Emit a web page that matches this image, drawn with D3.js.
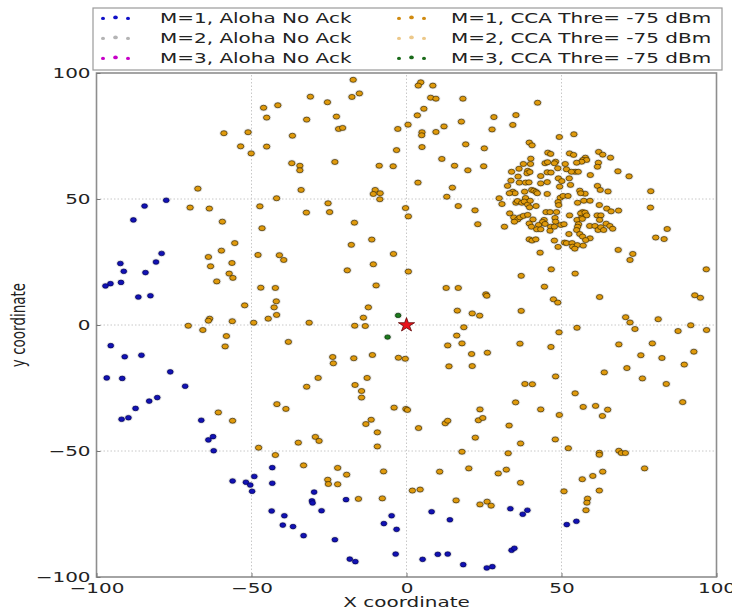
<!DOCTYPE html>
<html><head><meta charset="utf-8">
<script src="https://cdn.jsdelivr.net/npm/d3@7"></script>
<style>body{margin:0;background:#fff}svg{display:block}</style>
</head><body>
<svg id="c" width="732" height="611"></svg>
<script>
// ---------- DATA ----------
const tickValues = [-100, -50, 0, 50, 100];
const legendLabels = ["M=1, Aloha No Ack","M=2, Aloha No Ack","M=3, Aloha No Ack",
                      "M=1, CCA Thre= -75 dBm","M=2, CCA Thre= -75 dBm","M=3, CCA Thre= -75 dBm"];
const legendColors = ["#1010c8","#b4b4b4","#c800c8","#d08a10","#ecc88a","#1a6a1a"];
const xLabel = "X coordinate";
const yLabel = "y coordinate";

// M=1, Aloha No Ack (blue)
const alohaM1 = [[-77.5,49.5],[-84.5,47.2],[-88.1,41.7],[-79.0,28.4],[-80.8,25.0],[-92.3,24.4],[-91.2,21.3],[-84.2,20.8],[-92.1,16.9],[-95.5,16.4],[-97.1,15.5],[-86.5,11.1],[-82.6,11.6],[-95.4,-8.2],[-90.9,-12.6],[-85.5,-12.0],[-76.2,-18.6],[-96.7,-21.0],[-91.7,-21.2],
[-71.4,-24.3],[-87.4,-33.1],[-83.0,-30.2],[-80.4,-28.8],[-91.9,-37.4],[-89.7,-36.8],[-66.2,-37.8],[-63.9,-45.6],[-62.4,-44.3],[-62.2,-49.9],[-56.1,-61.9],[-51.8,-62.4],[-50.4,-63.5],[-49.8,-66.0],[-49.1,-60.1],[-43.3,-56.6],[-43.3,-62.8],[-43.5,-73.8],[-39.4,-75.7],[-39.9,-79.4],[-36.6,-80.0],[-33.2,-83.6],[-29.8,-66.3],[-30.5,-69.8],[-30.3,-70.6],[-27.4,-73.7],[-23.1,-85.2],[-19.5,-69.3],[-18.3,-92.9],[-16.5,-93.9],[-4.8,-75.7],[-7.3,-78.8],[-3.2,-81.1],[-3.5,-90.9],
[8.1,-74.1],[14.0,-77.3],[33.5,-72.9],[37.5,-75.1],[39.0,-73.5],[51.7,-79.2],[54.8,-77.9],[33.9,-89.4],[34.8,-88.6],[5.2,-93.0],[10.1,-91.0],[13.3,-90.9],[18.3,-95.1],[25.9,-96.4],[27.7,-95.9]];

// M=1, CCA Thre= -75 dBm (orange) - scattered nodes
const ccaM1Spread = [[-58.9,76.1],[-51.1,76.5],[-53.5,70.9],[-50.1,68.1],[-67.3,54.1],
[-17.2,97.3],[-31.0,90.6],[-17.6,90.5],[-15.2,91.9],[-25.5,88.4],[-46.1,86.2],[-41.5,87.2],[-45.1,82.3],[-32.2,81.5],[-22.6,82.7],[-21.9,77.8],[-20.6,78.2],[0.5,79.5],[-2.8,77.8],[-36.8,75.1],[-45.1,70.8],[-3.2,69.4],[-37.0,64.2],[-34.4,63.2],[-34.4,61.4],[-23.1,64.7],[-8.8,63.2],[-4.3,63.0],[-34.0,53.6],[-41.9,50.3],[-10.1,53.6],[-10.7,52.0],[-8.5,52.3],[-8.6,49.9],
[4.6,96.3],[3.8,95.0],[8.5,95.0],[7.8,90.2],[9.5,89.8],[18.2,89.8],[42.3,88.2],[5.6,85.8],[3.5,83.2],[35.3,83.3],[28.2,82.5],[17.7,80.7],[34.3,79.4],[27.6,77.6],[12.1,78.8],[9.5,76.6],[5.0,76.5],[4.9,75.3],[19.1,71.7],[25.1,70.1],[5.0,70.6],[11.4,65.9],[15.5,63.2],[24.9,63.0],[19.8,61.4],[3.7,56.5],[14.8,54.5],[13.0,50.9],[78.8,53.1],
[-69.8,46.6],[-63.6,46.2],[-59.4,41.0],[-55.4,32.5],[-59.7,29.5],[-63.9,27.0],[-56.3,24.6],[-63.2,23.3],[-57.2,20.4],[-56.0,18.7],[-61.2,17.3],[-52.2,7.8],[-63.5,2.5],[-63.9,1.7],[-56.2,1.5],[-70.4,-0.3],[-65.7,-2.0],[-58.1,-4.4],[-58.5,-8.5],[-47.3,47.1],[-46.6,38.4],[-32.3,44.6],[-25.3,48.3],[-24.8,44.8],[-16.8,40.6],[-11.2,33.9],[-17.8,31.8],[-4.2,28.2],[-47.9,27.8],[-41.0,27.7],[-39.6,25.8],[-19.1,21.7],[-10.7,24.1],[-9.8,15.7],[-47.0,14.8],[-42.3,14.7],[-42.0,9.4],[-42.7,7.0],[-41.9,4.0],[-44.6,2.5],[-49.3,0.9],[-31.4,0.9],[-12.3,7.0],[-13.9,2.9],[-16.7,-0.3],[-13.3,-0.4],[-38.1,-6.7],[-11.0,-11.9],[-2.6,-13.0],[-23.8,-12.7],[-23.6,-15.2],[-17.0,-13.2],[-28.5,-21.0],[-12.7,-21.0],
[-0.3,46.4],[0.6,43.1],[16.7,47.2],[22.1,45.5],[23.0,40.0],[0.6,21.2],[78.7,46.6],[84.1,38.1],[80.4,34.7],[83.1,34.1],[96.7,22.1],[54.4,20.4],[37.0,19.5],[44.5,15.2],[12.8,14.7],[16.7,14.7],[25.6,12.2],[25.9,11.6],[47.4,10.2],[48.8,8.9],[62.3,11.1],[93.0,11.8],[94.8,10.8],[16.4,5.7],[21.2,4.6],[23.6,3.7],[37.0,5.6],[70.7,3.1],[72.1,1.0],[81.2,2.3],[73.7,-1.6],[91.7,-0.1],[96.8,-2.0],[87.6,-2.4],[18.5,-0.9],[55.0,-1.1],[49.2,-2.9],[16.2,-4.2],[13.3,-8.1],[17.9,-7.3],[36.6,-7.4],[46.6,-8.7],[68.5,-7.7],[79.3,-7.3],[21.0,-11.5],[26.1,-11.0],[75.6,-12.0],[82.4,-13.1],[92.7,-10.6],[-0.4,-13.4],[13.7,-16.4],[21.2,-16.3],[71.1,-17.1],[89.6,-15.7],[63.8,-18.8],[48.1,-20.4],[76.1,-21.2],
[-60.7,-34.7],[-56.1,-38.0],[-47.7,-48.7],[-42.3,-51.6],[-41.8,-31.4],[-38.9,-33.3],[-32.2,-24.5],[-34.9,-46.7],[-29.4,-44.4],[-28.2,-46.0],[-33.2,-55.7],[-16.6,-23.8],[-14.5,-26.2],[-14.5,-28.8],[-11.4,-37.6],[-13.1,-39.3],[-9.4,-42.6],[-9.4,-48.2],[-4.0,-32.8],[-22.2,-56.7],[-19.3,-59.4],[-25.4,-61.4],[-25.2,-63.1],[-22.2,-63.2],[-15.5,-69.0],[-7.8,-68.8],[-7.4,-58.1],
[38.2,-23.4],[40.6,-23.5],[83.8,-23.4],[89.1,-30.6],[54.4,-27.1],[57.0,-32.5],[61.0,-32.1],[64.9,-33.6],[63.2,-36.1],[49.3,-35.7],[35.2,-30.7],[43.3,-33.5],[-0.2,-33.3],[0.3,-33.7],[23.7,-33.5],[23.2,-37.8],[24.6,-36.9],[12.5,-39.0],[13.3,-38.0],[3.9,-40.9],[33.1,-39.9],[22.2,-44.7],[36.8,-47.0],[48.0,-45.4],[52.2,-48.9],[17.9,-50.3],[32.8,-50.9],[62.2,-50.7],[62.2,-51.5],[68.5,-49.9],[69.3,-50.8],[70.6,-50.8],[10.7,-58.2],[20.1,-56.9],[29.6,-58.9],[32.2,-57.4],[63.3,-58.2],[76.8,-56.9],[60.1,-59.9],[56.7,-61.2],[36.8,-62.6],[1.9,-65.7],[4.4,-65.3],[50.8,-66.0],[62.2,-65.7],[16.0,-69.6],[23.7,-71.2],[26.0,-70.1],[27.3,-71.7],[58.4,-68.9],[58.2,-70.5],[57.9,-73.5]];

// M=1, CCA Thre= -75 dBm (orange) - dense cluster in upper right
const ccaM1Cluster = [[49.3,74.6],[54.0,75.7],[39.6,72.4],[40.5,71.3],[45.6,68.4],[46.5,67.9],[52.6,68.1],[53.9,67.5],[62.0,68.7],[63.3,67.6],[65.8,66.4],[57.7,66.4],[56.9,65.5],[58.1,65.5],[56.5,64.8],[61.9,64.4],[61.6,62.8],[40.1,66.0],[40.0,63.9],[44.7,64.2],[45.5,64.6],[48.1,64.8],[47.7,64.2],[37.7,63.9],[51.2,63.9],[54.9,64.4],[36.3,62.0],[33.9,60.8],[39.1,61.2],[38.9,60.2],[39.8,60.7],[45.4,60.6],[46.6,60.5],[48.8,62.2],[51.6,61.8],[54.4,60.8],[53.2,60.8],[55.4,60.8],[59.3,59.5],[68.2,61.0],[71.8,59.0],[33.7,57.3],[36.0,58.9],[36.4,56.5],[38.4,56.5],[39.5,56.6],[43.3,59.1],[43.3,56.2],[45.4,56.7],[49.0,58.2],[50.1,57.1],[49.4,54.9],[52.9,55.6],[52.5,58.2],[32.6,55.2],[34.3,52.9],[35.0,52.3],[33.2,52.3],[38.1,52.9],[40.4,53.6],[41.1,53.3],[41.8,52.8],[42.2,52.3],[45.4,52.0],[49.6,50.5],[50.5,51.2],[52.1,51.2],[55.9,53.3],[57.6,52.1],[56.2,52.3],[61.6,55.2],[62.5,53.6],[65.0,53.0],[29.9,50.3],[30.8,48.0],[35.3,48.5],[35.8,49.2],[37.2,48.5],[38.4,50.4],[38.0,49.0],[39.1,47.8],[39.7,46.7],[41.8,47.2],[39.9,49.3],[48.9,48.8],[49.1,47.6],[55.2,48.5],[57.2,49.3],[59.2,49.3],[62.2,47.6],[64.6,46.2],[66.0,45.1],[68.4,45.4],[56.8,44.8],[56.2,44.3],[56.5,42.6],[57.6,44.6],[58.1,43.5],[33.3,44.3],[34.6,42.7],[35.9,41.9],[36.6,42.7],[37.7,43.3],[39.1,43.7],[34.8,41.0],[45.0,44.8],[46.3,44.8],[48.4,44.8],[40.8,41.9],[44.4,41.7],[43.9,40.9],[47.9,42.5],[48.1,41.0],[52.6,43.5],[55.0,41.7],[55.5,40.0],[56.7,42.1],[59.1,39.3],[61.5,43.5],[62.7,43.5],[62.3,41.7],[31.6,39.0],[39.6,40.3],[40.3,39.0],[42.6,39.7],[44.7,40.1],[46.5,39.0],[47.7,39.0],[49.8,39.7],[50.8,40.0],[55.2,39.0],[60.8,39.3],[61.8,37.7],[62.7,38.8],[64.4,40.2],[65.6,39.3],[66.5,38.2],[63.6,37.7],[42.0,38.0],[43.3,38.0],[46.3,37.4],[52.4,36.1],[54.9,37.7],[55.9,36.1],[56.8,35.1],[59.2,34.4],[57.8,33.7],[39.6,34.0],[40.5,33.5],[41.7,34.0],[47.7,33.5],[51.0,32.7],[51.6,32.5],[53.4,32.5],[53.6,31.1],[55.1,31.7],[54.3,30.3],[57.0,31.5],[48.9,31.0],[43.1,28.7],[68.3,29.8],[73.0,28.2],[72.1,25.8],[46.7,22.1]];

// M=3, CCA Thre= -75 dBm (green)
const ccaM3 = [[-2.7,3.8],[-6.1,-4.8]];
// Sink (red star)
const sink = [[0,0]];

// ---------- DRAW ----------
const SX = 1.48;               // horizontal stretch of the original figure
const FONT = "DejaVu Sans";
const svg = d3.select("#c");
const x = d3.scaleLinear().domain([-100,100]).range([96.5,716.5]);
const y = d3.scaleLinear().domain([-100,100]).range([577,73]);
const fmt = d => (d < 0 ? "\u2212" + Math.abs(d) : String(d));

// grid
const grid = svg.append("g");
grid.selectAll("line.gx").data(tickValues.slice(1,-1)).join("line")
  .attr("x1", d=>x(d)).attr("x2", d=>x(d)).attr("y1", y(-100)).attr("y2", y(100))
  .attr("stroke","#c8c8c8").attr("stroke-width",1).attr("stroke-dasharray","1.5,2");
grid.selectAll("line.gy").data(tickValues.slice(1,-1)).join("line")
  .attr("y1", d=>y(d)).attr("y2", d=>y(d)).attr("x1", x(-100)).attr("x2", x(100))
  .attr("stroke","#c8c8c8").attr("stroke-width",1).attr("stroke-dasharray","1.5,2");

// points
svg.append("clipPath").attr("id","pc").append("rect")
  .attr("x",x(-100)).attr("y",y(100)).attr("width",x(100)-x(-100)).attr("height",y(-100)-y(100));
const pts = svg.append("g").attr("clip-path","url(#pc)");

function drawSeries(data, fill, stroke, rx, ry) {
  const g = pts.append("g");
  g.selectAll("ellipse.h").data(data).join("ellipse")
    .attr("cx", d=>x(d[0])).attr("cy", d=>y(d[1]))
    .attr("rx", rx+1.3).attr("ry", ry+1.1).attr("fill","#c4c4c4").attr("opacity",0.45);
  g.selectAll("ellipse.p").data(data).join("ellipse")
    .attr("cx", d=>x(d[0])).attr("cy", d=>y(d[1]))
    .attr("rx", rx).attr("ry", ry).attr("fill", fill)
    .attr("stroke", stroke).attr("stroke-width", 0.7);
}
drawSeries(alohaM1, "#1212b4", "#00005a", 2.9, 2.3);
drawSeries(ccaM1Spread.concat(ccaM1Cluster), "#e09a0c", "#3f2c00", 3.2, 2.5);
drawSeries(ccaM3, "#1d7a1d", "#003000", 2.8, 2.2);

pts.selectAll("path.star").data(sink).join("path")
  .attr("d", d3.symbol(d3.symbolStar, 62)())
  .attr("transform", d=>`translate(${x(d[0])},${y(d[1])}) scale(1.15,1)`)
  .attr("fill","#e8141c").attr("stroke","#5a0000").attr("stroke-width",0.7);

// frame
svg.append("rect").attr("x",x(-100)).attr("y",y(100))
  .attr("width",x(100)-x(-100)).attr("height",y(-100)-y(100))
  .attr("fill","none").attr("stroke","#8e8e8e").attr("stroke-width",1.6);

// axes
const xa = svg.append("g").attr("transform",`translate(0,${y(-100)})`)
  .call(d3.axisBottom(x).tickValues(tickValues).tickFormat(fmt).tickSizeInner(-4).tickSizeOuter(0));
const ya = svg.append("g").attr("transform",`translate(${x(-100)},0)`)
  .call(d3.axisLeft(y).tickValues(tickValues).tickFormat(fmt).tickSizeInner(-4).tickSizeOuter(0));
[xa,ya].forEach(a=>{ a.select(".domain").remove();
  a.selectAll(".tick line").attr("stroke","#777");
  a.selectAll("text").attr("fill","#222").style("font-family",FONT).style("font-size","13.5px"); });
xa.selectAll("text").attr("y",6).attr("dy","0.71em").attr("transform",`scale(${SX},1)`);
ya.selectAll("text").attr("x",-4).attr("dy","0.36em").attr("transform",`scale(${SX},1)`);

// axis labels
svg.append("text").attr("transform",`translate(${x(0)},607) scale(${SX},1)`)
  .attr("text-anchor","middle").style("font-family",FONT).style("font-size","13.5px")
  .attr("fill","#222").text(xLabel);
svg.append("text").attr("transform",`translate(25,${y(0)}) scale(${SX},1) rotate(-90)`)
  .attr("text-anchor","middle").style("font-family",FONT).style("font-size","13.5px")
  .attr("fill","#222").text(yLabel);

// legend
const lg = svg.append("g");
lg.append("rect").attr("x",93).attr("y",8).attr("width",629).attr("height",62)
  .attr("fill","#fff").attr("stroke","#9a9a9a").attr("stroke-width",1.2);
const colX = [103, 399], textX = [160, 451], rowY = [18, 38, 58];
legendLabels.forEach((lab,i)=>{
  const c = Math.floor(i/3), r = i%3;
  const dots = [0,1,2];
  lg.selectAll(null).data(dots).join("ellipse")
    .attr("cx", k=>colX[c] + k*12.5).attr("cy", k=>rowY[r] + (k===1?-0.6:0.4))
    .attr("rx", k=>k===1?2.3:2.0).attr("ry", k=>k===1?1.9:1.7)
    .attr("fill", legendColors[i]);
  lg.append("text").attr("transform",`translate(${textX[c]},${rowY[r]}) scale(${SX},1)`)
    .attr("dy","0.36em").style("font-family",FONT).style("font-size","13.5px")
    .attr("fill","#222").text(lab);
});
</script>
</body></html>
